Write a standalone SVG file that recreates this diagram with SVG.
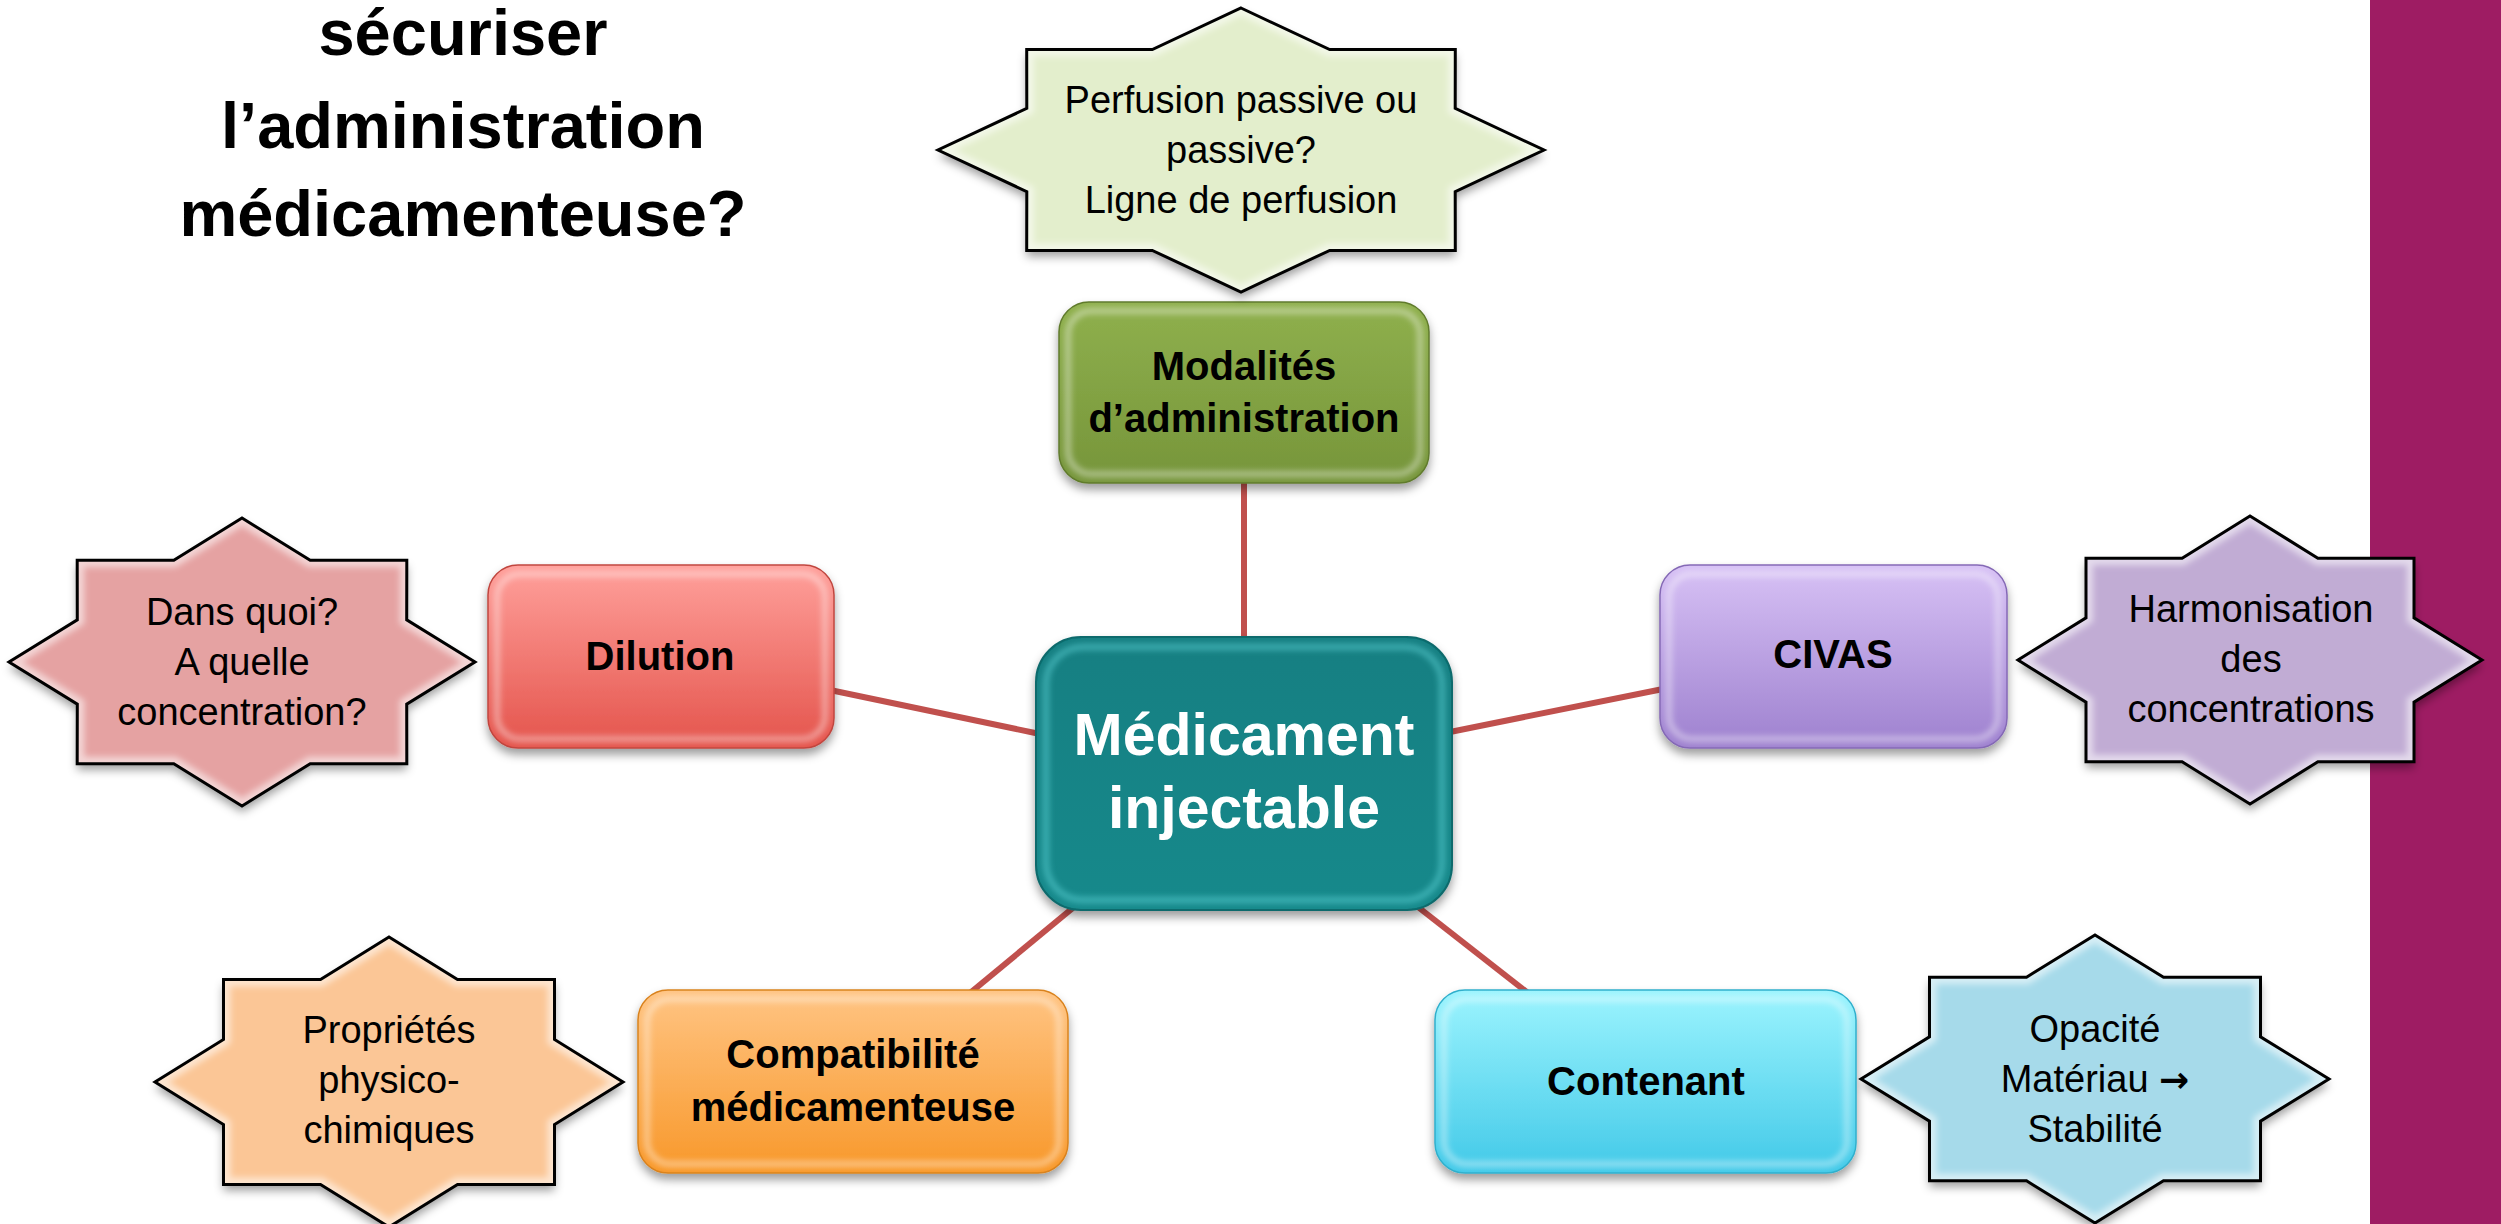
<svg xmlns="http://www.w3.org/2000/svg" xmlns:xlink="http://www.w3.org/1999/xlink" width="2501" height="1224" viewBox="0 0 2501 1224">
<style>
.t{font-family:"Liberation Sans",Arial,sans-serif;text-anchor:middle}
.title{font-size:65px;font-weight:bold;fill:#000}
.box{font-size:40px;font-weight:bold;fill:#000}
.star{font-size:38px;fill:#000}
.center{font-size:59px;font-weight:bold;fill:#fff}
.arrow{font-family:"DejaVu Sans",sans-serif;font-weight:bold;font-size:36px}
.outline{fill:none;stroke:#000;stroke-width:3;stroke-linejoin:miter}
.glow{fill:none;stroke:#fff;stroke-opacity:.55;stroke-width:14}
.hl{fill:none;stroke:#fff;stroke-opacity:.5;stroke-width:5}
.conn{stroke:#C0504D;stroke-width:6;fill:none}
</style>
<defs>
<filter id="shadow" x="-10%" y="-10%" width="120%" height="135%"><feDropShadow dx="0" dy="6" stdDeviation="5" flood-color="#000" flood-opacity="0.38"/></filter>
<filter id="soft" x="-10%" y="-10%" width="120%" height="120%"><feGaussianBlur stdDeviation="3"/></filter>
<linearGradient id="gGreen" x1="0" y1="0" x2="0" y2="1"><stop offset="0" stop-color="#8FB04D"/><stop offset="1" stop-color="#76953A"/></linearGradient>
<linearGradient id="gRed" x1="0" y1="0" x2="0" y2="1"><stop offset="0" stop-color="#FFA09B"/><stop offset="1" stop-color="#E4544C"/></linearGradient>
<linearGradient id="gPurple" x1="0" y1="0" x2="0" y2="1"><stop offset="0" stop-color="#D7C1F5"/><stop offset="1" stop-color="#9E81CF"/></linearGradient>
<linearGradient id="gOrange" x1="0" y1="0" x2="0" y2="1"><stop offset="0" stop-color="#FFC483"/><stop offset="1" stop-color="#F8982A"/></linearGradient>
<linearGradient id="gCyan" x1="0" y1="0" x2="0" y2="1"><stop offset="0" stop-color="#9CF4FE"/><stop offset="1" stop-color="#42C9E8"/></linearGradient>
<linearGradient id="gTeal" x1="0" y1="0" x2="0" y2="1"><stop offset="0" stop-color="#127F82"/><stop offset="1" stop-color="#16898B"/></linearGradient>
<polygon id="p1" points="1241,8 1329.7,49.6 1455.3,49.6 1455.2,108.4 1544,150 1455.2,191.6 1455.3,250.4 1329.7,250.4 1241,292 1152.3,250.4 1026.7,250.4 1026.8,191.6 938,150 1026.8,108.4 1026.7,49.6 1152.3,49.6"/>
<polygon id="p2" points="242,518 310.2,560.2 406.8,560.2 406.7,619.8 475,662 406.7,704.2 406.8,763.8 310.2,763.8 242,806 173.8,763.8 77.2,763.8 77.3,704.2 9,662 77.3,619.8 77.2,560.2 173.8,560.2"/>
<polygon id="p3" points="2250,516 2317.9,558.2 2414,558.2 2414,617.8 2482,660 2414,702.2 2414,761.8 2317.9,761.8 2250,804 2182.1,761.8 2086,761.8 2086,702.2 2018,660 2086,617.8 2086,558.2 2182.1,558.2"/>
<polygon id="p4" points="389,937 457.5,979.5 554.5,979.5 554.5,1039.5 623,1082 554.5,1124.5 554.5,1184.5 457.5,1184.5 389,1227 320.5,1184.5 223.5,1184.5 223.5,1124.5 155,1082 223.5,1039.5 223.5,979.5 320.5,979.5"/>
<polygon id="p5" points="2095,935 2163.5,977.2 2260.5,977.2 2260.5,1036.8 2329,1079 2260.5,1121.2 2260.5,1180.8 2163.5,1180.8 2095,1223 2026.5,1180.8 1929.5,1180.8 1929.5,1121.2 1861,1079 1929.5,1036.8 1929.5,977.2 2026.5,977.2"/>
<clipPath id="c1"><use xlink:href="#p1"/></clipPath>
<clipPath id="c2"><use xlink:href="#p2"/></clipPath>
<clipPath id="c3"><use xlink:href="#p3"/></clipPath>
<clipPath id="c4"><use xlink:href="#p4"/></clipPath>
<clipPath id="c5"><use xlink:href="#p5"/></clipPath>
</defs>

<rect x="0" y="0" width="2501" height="1224" fill="#fff"/>
<rect id="side-bar" x="2370" y="0" width="131" height="1224" fill="#9E1C63"/>

<g id="title" class="t title">
<text x="463" y="55">sécuriser</text>
<text x="463" y="148">l’administration</text>
<text x="463" y="236">médicamenteuse?</text>
</g>

<g id="connectors" class="conn">
<line x1="1244" y1="480" x2="1244" y2="640"/>
<line x1="830" y1="690" x2="1040" y2="734"/>
<line x1="1450" y1="732" x2="1663" y2="689"/>
<line x1="1074" y1="907" x2="970" y2="993"/>
<line x1="1418" y1="907" x2="1528" y2="993"/>
</g>

<g id="node-center">
<rect x="1036" y="637" width="416" height="273" rx="45" fill="url(#gTeal)" stroke="#0E6A6C" stroke-width="2" filter="url(#shadow)"/>
<rect x="1046" y="647" width="396" height="253" rx="37" fill="none" stroke="#6FE6EA" stroke-opacity=".55" stroke-width="5" filter="url(#soft)"/>
<text class="t center" x="1244" y="755">Médicament</text>
<text class="t center" x="1244" y="828">injectable</text>
</g>

<g id="node-modalites">
<rect x="1059" y="302" width="370" height="181" rx="30" fill="url(#gGreen)" stroke="#5F7A2C" stroke-width="1.5" filter="url(#shadow)"/>
<rect x="1068" y="311" width="352" height="163" rx="23" class="hl" filter="url(#soft)"/>
<text class="t box" x="1244" y="380">Modalités</text>
<text class="t box" x="1244" y="432">d’administration</text>
</g>

<g id="node-dilution">
<rect x="488" y="565" width="346" height="183" rx="30" fill="url(#gRed)" stroke="#C0453E" stroke-width="1.5" filter="url(#shadow)"/>
<rect x="497" y="574" width="328" height="165" rx="23" class="hl" filter="url(#soft)"/>
<text class="t box" x="660" y="670">Dilution</text>
</g>

<g id="node-civas">
<rect x="1660" y="565" width="347" height="183" rx="30" fill="url(#gPurple)" stroke="#8468B5" stroke-width="1.5" filter="url(#shadow)"/>
<rect x="1669" y="574" width="329" height="165" rx="23" class="hl" filter="url(#soft)"/>
<text class="t box" x="1833" y="668">CIVAS</text>
</g>

<g id="node-compatibilite">
<rect x="638" y="990" width="430" height="183" rx="30" fill="url(#gOrange)" stroke="#D9821C" stroke-width="1.5" filter="url(#shadow)"/>
<rect x="647" y="999" width="412" height="165" rx="23" class="hl" filter="url(#soft)"/>
<text class="t box" x="853" y="1068">Compatibilité</text>
<text class="t box" x="853" y="1121">médicamenteuse</text>
</g>

<g id="node-contenant">
<rect x="1435" y="990" width="421" height="183" rx="30" fill="url(#gCyan)" stroke="#2FAFCC" stroke-width="1.5" filter="url(#shadow)"/>
<rect x="1444" y="999" width="403" height="165" rx="23" class="hl" filter="url(#soft)"/>
<text class="t box" x="1646" y="1095">Contenant</text>
</g>

<g id="star-modalites">
<use xlink:href="#p1" fill="#E3EECC" filter="url(#shadow)"/>
<use xlink:href="#p1" class="glow" clip-path="url(#c1)" filter="url(#soft)"/>
<use xlink:href="#p1" class="outline"/>
<text class="t star" x="1241" y="113">Perfusion passive ou</text>
<text class="t star" x="1241" y="163">passive?</text>
<text class="t star" x="1241" y="213">Ligne de perfusion</text>
</g>

<g id="star-dilution">
<use xlink:href="#p2" fill="#E5A2A2" filter="url(#shadow)"/>
<use xlink:href="#p2" class="glow" clip-path="url(#c2)" filter="url(#soft)"/>
<use xlink:href="#p2" class="outline"/>
<text class="t star" x="242" y="625">Dans quoi?</text>
<text class="t star" x="242" y="675">A quelle</text>
<text class="t star" x="242" y="725">concentration?</text>
</g>

<g id="star-civas">
<use xlink:href="#p3" fill="#C1ACD4" filter="url(#shadow)"/>
<use xlink:href="#p3" class="glow" clip-path="url(#c3)" filter="url(#soft)"/>
<use xlink:href="#p3" class="outline"/>
<text class="t star" x="2251" y="622">Harmonisation</text>
<text class="t star" x="2251" y="672">des</text>
<text class="t star" x="2251" y="722">concentrations</text>
</g>

<g id="star-compatibilite">
<use xlink:href="#p4" fill="#FBC696" filter="url(#shadow)"/>
<use xlink:href="#p4" class="glow" clip-path="url(#c4)" filter="url(#soft)"/>
<use xlink:href="#p4" class="outline"/>
<text class="t star" x="389" y="1043">Propriétés</text>
<text class="t star" x="389" y="1093">physico-</text>
<text class="t star" x="389" y="1143">chimiques</text>
</g>

<g id="star-contenant">
<use xlink:href="#p5" fill="#A6DAEA" filter="url(#shadow)"/>
<use xlink:href="#p5" class="glow" clip-path="url(#c5)" filter="url(#soft)"/>
<use xlink:href="#p5" class="outline"/>
<text class="t star" x="2095" y="1042">Opacité</text>
<text class="t star" x="2095" y="1092">Matériau <tspan class="arrow">→</tspan></text>
<text class="t star" x="2095" y="1142">Stabilité</text>
</g>
</svg>
